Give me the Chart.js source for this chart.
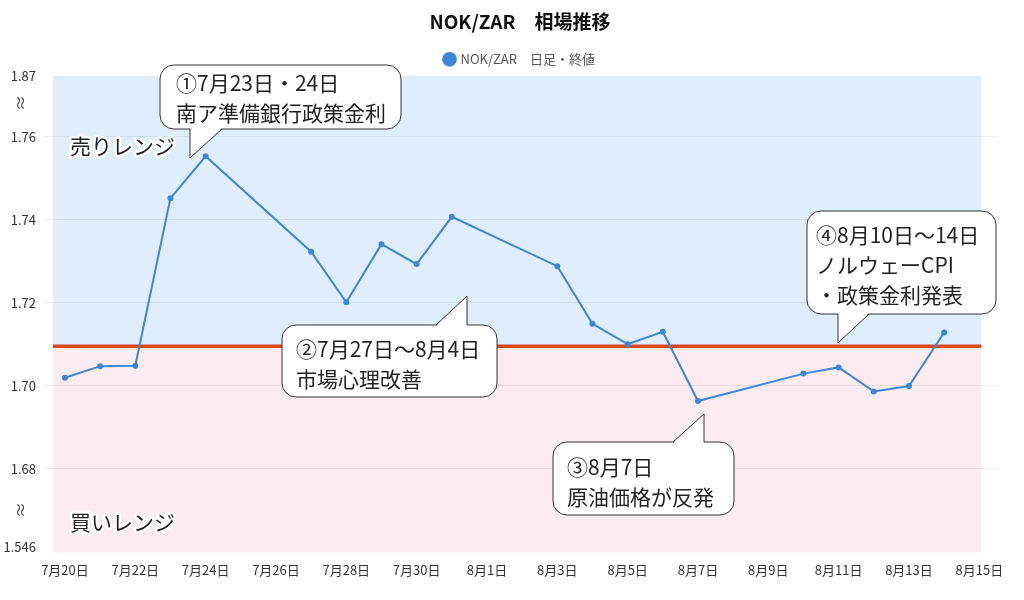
<!DOCTYPE html>
<html lang="ja">
<head>
<meta charset="utf-8">
<title>NOK/ZAR 相場推移</title>
<script src="https://cdn.jsdelivr.net/npm/chart.js@4.4.1/dist/chart.umd.min.js"></script>
<style>
  html, body { margin: 0; padding: 0; background: #fff; }
</style>
</head>
<body>
<canvas id="chart" width="1024" height="600"></canvas>
<script>
// closing rates, one per trading day
const dates = ['7/20', '7/21', '7/22', '7/23', '7/24', '7/27', '7/28', '7/29', '7/30', '7/31',
  '8/3', '8/4', '8/5', '8/6', '8/7', '8/10', '8/11', '8/12', '8/13', '8/14']
const closes = [1.7019, 1.7047, 1.7048, 1.7452, 1.7553, 1.7323, 1.7201, 1.7341, 1.7293, 1.7407,
  1.7288, 1.7149, 1.7100, 1.7130, 1.6963, 1.7029, 1.7044, 1.6986, 1.6999, 1.7128]

// x axis labels (every second day)
const xTickDates = ['7/20', '7/22', '7/24', '7/26', '7/28', '7/30', '8/1', '8/3', '8/5',
  '8/7', '8/9', '8/11', '8/13', '8/15']

// broken y axis: top and bottom labels stand for the cut-off ends
const yTickValues = [1.661, 1.68, 1.70, 1.72, 1.74, 1.76, 1.7747]
const yTickLabels = ['1.546', '1.68', '1.70', '1.72', '1.74', '1.76', '1.87']

// sell / buy range border
const rangeLine = 1.7095

const FONT = '"Noto Sans CJK JP", "Noto Sans", sans-serif'
const LINE_BLUE = '#3b87d9'

// turn 'M/D' into days since 7/20
const dayOf = (s) => {
  const [m, d] = s.split('/').map(Number)
  return Math.round((new Date(2020, m - 1, d) - new Date(2020, 6, 20)) / 86400000)
}
const jpDate = (s) => {
  const [m, d] = s.split('/')
  return `${m}月${d}日`
}

const points = dates.map((d, i) => ({ x: dayOf(d), y: closes[i] }))
const xTickDays = xTickDates.map(dayOf)

// speech bubbles, pixel layout
const callouts = [
  { lines: ['①7月23日・24日', '南ア準備銀行政策金利'], box: [160, 65, 401, 129],
    side: 'bottom', base: [190, 222], tip: [190, 158], text: [176, 83] },
  { lines: ['②7月27日～8月4日', '市場心理改善'], box: [282, 325, 497, 397],
    side: 'top', base: [436, 467], tip: [467, 296], text: [296, 349] },
  { lines: ['③8月7日', '原油価格が反発'], box: [553, 442, 734, 515],
    side: 'top', base: [673, 704], tip: [704, 414], text: [567, 467] },
  { lines: ['④8月10日～14日', 'ノルウェーCPI', '・政策金利発表'], box: [807, 211, 996, 314],
    side: 'bottom', base: [838, 869], tip: [838, 343], text: [816, 235] },
]

function roundRectPath(ctx, l, t, w, h, r) {
  ctx.beginPath()
  ctx.moveTo(l + r, t)
  ctx.arcTo(l + w, t, l + w, t + h, r)
  ctx.arcTo(l + w, t + h, l, t + h, r)
  ctx.arcTo(l, t + h, l, t, r)
  ctx.arcTo(l, t, l + w, t, r)
  ctx.closePath()
}

function drawCallout(ctx, c) {
  const [l, t, r, b] = c.box
  ctx.save()
  ctx.fillStyle = '#fff'
  ctx.strokeStyle = '#333'
  ctx.lineWidth = 1
  roundRectPath(ctx, l, t, r - l, b - t, 14)
  ctx.fill()
  ctx.stroke()

  // tail: cover the border under its base, then outline the two sides
  const edge = c.side === 'bottom' ? b : t
  const inset = c.side === 'bottom' ? -1.5 : 1.5
  ctx.beginPath()
  ctx.moveTo(c.base[0], edge + inset)
  ctx.lineTo(c.tip[0], c.tip[1])
  ctx.lineTo(c.base[1], edge + inset)
  ctx.closePath()
  ctx.fill()
  ctx.beginPath()
  ctx.moveTo(c.base[0], edge)
  ctx.lineTo(c.tip[0], c.tip[1])
  ctx.lineTo(c.base[1], edge)
  ctx.stroke()

  ctx.fillStyle = '#222'
  ctx.font = `21px ${FONT}`
  ctx.textBaseline = 'middle'
  ctx.textAlign = 'left'
  c.lines.forEach((line, i) => ctx.fillText(line, c.text[0], c.text[1] + i * 30))
  ctx.restore()
}

function haloText(ctx, text, x, y) {
  ctx.save()
  ctx.font = `21px ${FONT}`
  ctx.textBaseline = 'middle'
  ctx.lineJoin = 'round'
  ctx.strokeStyle = '#fff'
  ctx.lineWidth = 5
  ctx.strokeText(text, x, y)
  ctx.fillStyle = '#222'
  ctx.fillText(text, x, y)
  ctx.restore()
}

// draws the wavy axis-break mark
function breakMark(ctx, x, y) {
  ctx.save()
  ctx.translate(x, y)
  ctx.rotate(Math.PI / 2)
  ctx.font = `16px ${FONT}`
  ctx.fillStyle = '#444'
  ctx.textAlign = 'center'
  ctx.textBaseline = 'middle'
  ctx.fillText('≈', 0, 0)
  ctx.restore()
}

const rangePlugin = {
  id: 'ranges',
  beforeDraw(chart) {
    const { ctx, chartArea, scales } = chart
    const yLine = scales.y.getPixelForValue(rangeLine)
    const right = scales.x.getPixelForValue(xTickDays[xTickDays.length - 1]) + 2
    ctx.save()
    ctx.fillStyle = '#dfedfc'
    ctx.fillRect(chartArea.left, chartArea.top, right - chartArea.left, yLine - chartArea.top)
    ctx.fillStyle = '#fcebf1'
    ctx.fillRect(chartArea.left, yLine, right - chartArea.left, chartArea.bottom - yLine)
    ctx.restore()
  },
  beforeDatasetsDraw(chart) {
    const { ctx, scales } = chart
    const yLine = scales.y.getPixelForValue(rangeLine)
    const right = scales.x.getPixelForValue(xTickDays[xTickDays.length - 1]) + 2
    ctx.save()
    ctx.strokeStyle = '#d9471e'
    ctx.lineWidth = 3.5
    ctx.beginPath()
    ctx.moveTo(chart.chartArea.left, yLine)
    ctx.lineTo(right, yLine)
    ctx.stroke()
    ctx.restore()
  },
  afterDraw(chart) {
    const { ctx, chartArea } = chart
    haloText(ctx, '売りレンジ', chartArea.left + 17, 146)
    haloText(ctx, '買いレンジ', chartArea.left + 17, 522)
    breakMark(ctx, 21, 103)
    breakMark(ctx, 21, 510)
    callouts.forEach(c => drawCallout(ctx, c))
  },
}

const lastY = yTickValues.length - 1

new Chart(document.getElementById('chart'), {
  type: 'line',
  data: {
    datasets: [{
      label: 'NOK/ZAR　日足・終値',
      data: points,
      borderColor: LINE_BLUE,
      backgroundColor: LINE_BLUE,
      borderWidth: 2,
      pointRadius: 2,
      pointHoverRadius: 2,
      tension: 0,
    }],
  },
  options: {
    responsive: false,
    animation: false,
    // negative right padding moves the title/legend centre to the right
    layout: { padding: { left: 0, right: -16, top: 0, bottom: 20 } },
    plugins: {
      title: {
        display: true,
        text: 'NOK/ZAR　相場推移',
        color: '#111',
        font: { family: FONT, size: 19, weight: 'bold' },
        padding: { top: 10, bottom: 10 },
      },
      legend: {
        labels: {
          usePointStyle: true,
          boxWidth: 9,
          boxHeight: 9,
          color: '#555',
          font: { family: FONT, size: 13 },
          padding: 10,
        },
      },
      tooltip: { enabled: false },
    },
    scales: {
      x: {
        type: 'linear',
        min: -0.34,
        max: 26.56,
        grid: { display: false },
        border: { display: false },
        afterBuildTicks: (scale) => { scale.ticks = xTickDays.map(v => ({ value: v })) },
        ticks: {
          autoSkip: false,
          maxRotation: 0,
          padding: 2,
          color: '#333',
          font: { family: FONT, size: 13 },
          callback: (value, index) => jpDate(xTickDates[index]),
        },
      },
      y: {
        min: 1.6598,
        max: 1.7747,
        afterFit: (scale) => { scale.width = 53 },
        afterBuildTicks: (scale) => { scale.ticks = yTickValues.map(v => ({ value: v })) },
        border: { display: false },
        grid: {
          tickLength: 10,
          color: (c) => (c.index === 0 || c.index === lastY) ? 'rgba(0,0,0,0)' : 'rgba(0,0,0,0.07)',
        },
        ticks: {
          autoSkip: false,
          padding: 7,
          color: '#333',
          font: { family: FONT, size: 13 },
          callback: (value, index) => yTickLabels[index],
        },
      },
      pad: {
        position: 'right',
        min: 0,
        max: 1,
        afterFit: (scale) => { scale.width = 41 },
        grid: { display: false },
        border: { display: false },
        ticks: { display: false },
      },
    },
  },
  plugins: [rangePlugin],
})
</script>
</body>
</html>
